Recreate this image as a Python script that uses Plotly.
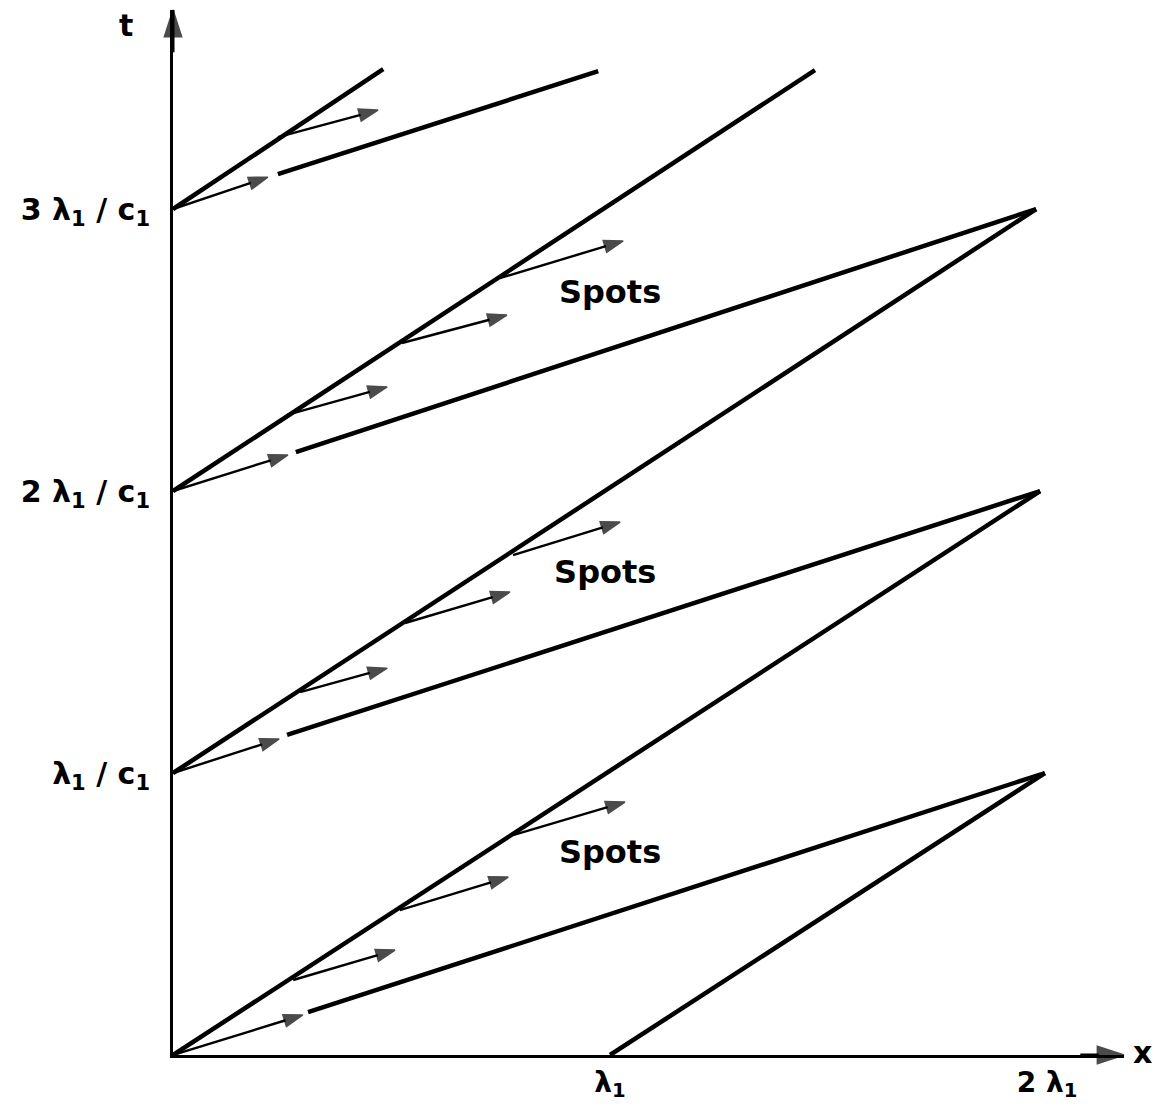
import plotly.graph_objects as go

# ---- data (x in units of lambda1, t in units of lambda1/c1) ----
# fast characteristics (t = x + k)
fast_x0 = [0.0, 1.0, 0.0, 0.0, 0.0]
fast_t0 = [0.0, 0.0, 1.0, 2.0, 3.0]
fast_x1 = [1.984, 1.995, 1.975, 1.469, 0.481]
fast_t1 = [2.0, 1.0, 3.0, 3.493, 3.496]

# slow characteristics (thick part, after the gap)
slow_x0 = [0.309, 0.261, 0.281, 0.240]
slow_t0 = [0.152, 1.135, 2.138, 3.124]
slow_x1 = [1.995, 1.984, 1.975, 0.973]
slow_t1 = [1.0, 2.0, 3.0, 3.489]

# small arrows (tail -> head)
arr_x0 = [0.0, 0.275, 0.519, 0.778,
          0.0, 0.291, 0.531, 0.778,
          0.0, 0.261, 0.524, 0.748,
          0.0, 0.240]
arr_t0 = [0.0, 0.266, 0.514, 0.780,
          1.0, 1.287, 1.532, 1.773,
          2.0, 2.270, 2.525, 2.755,
          3.0, 3.255]
arr_x1 = [0.297, 0.508, 0.767, 1.034,
          0.243, 0.490, 0.771, 1.023,
          0.263, 0.490, 0.764, 1.030,
          0.217, 0.469]
arr_t1 = [0.142, 0.372, 0.631, 0.897,
          1.121, 1.372, 1.642, 1.890,
          2.128, 2.369, 2.624, 2.887,
          3.113, 3.351]

# "Spots" labels
spot_x = [1.0, 0.989, 1.0]
spot_t = [2.695, 1.702, 0.709]

# ticks
x_tickvals = [1, 2]
x_ticktext = ["λ<sub>1</sub>", "2 λ<sub>1</sub>"]
y_tickvals = [1, 2, 3]
y_ticktext = ["λ<sub>1</sub> / c<sub>1</sub>", "2 λ<sub>1</sub> / c<sub>1</sub>", "3 λ<sub>1</sub> / c<sub>1</sub>"]

X_MAX = 2.176
T_MAX = 3.706

FONT = "DejaVu Sans"

fig = go.Figure()

for a, b, c, d in zip(fast_x0, fast_t0, fast_x1, fast_t1):
    fig.add_trace(go.Scatter(x=[a, c], y=[b, d], mode="lines",
                             line=dict(color="black", width=4.5),
                             showlegend=False, hoverinfo="skip"))
for a, b, c, d in zip(slow_x0, slow_t0, slow_x1, slow_t1):
    fig.add_trace(go.Scatter(x=[a, c], y=[b, d], mode="lines",
                             line=dict(color="black", width=4.5),
                             showlegend=False, hoverinfo="skip"))

# small arrows: shaft + arrow marker at the head
for a, b, c, d in zip(arr_x0, arr_t0, arr_x1, arr_t1):
    fig.add_trace(go.Scatter(x=[a, c], y=[b, d], mode="lines+markers",
                             line=dict(color="black", width=2.4),
                             marker=dict(symbol="arrow", size=[0, 20], angleref="previous",
                                         color="black", line=dict(width=1.5, color="black")),
                             showlegend=False, hoverinfo="skip", cliponaxis=False))

# axes arrowheads
fig.add_trace(go.Scatter(x=[X_MAX - 0.1, X_MAX], y=[0, 0], mode="lines+markers",
                         line=dict(color="black", width=3),
                         marker=dict(symbol="arrow", size=[0, 28], angleref="previous",
                                     color="black", line=dict(width=1.5, color="black")),
                         showlegend=False, hoverinfo="skip", cliponaxis=False))
fig.add_trace(go.Scatter(x=[0, 0], y=[T_MAX - 0.15, T_MAX], mode="lines+markers",
                         line=dict(color="black", width=3),
                         marker=dict(symbol="arrow", size=[0, 28], angleref="previous",
                                     color="black", line=dict(width=1.5, color="black")),
                         showlegend=False, hoverinfo="skip", cliponaxis=False))

fig.add_trace(go.Scatter(x=spot_x, y=spot_t, mode="text", text=["Spots"] * len(spot_x),
                         textfont=dict(family=FONT, size=32, color="black", weight="bold"),
                         showlegend=False, hoverinfo="skip"))

annotations = [
    dict(x=-0.0494, y=0.9856, xref="paper", yref="paper", text="t",
         xanchor="center", yanchor="middle",
         showarrow=False, font=dict(family=FONT, size=30, color="black", weight="bold")),
    dict(x=1.019, y=0.002, xref="paper", yref="paper", text="x",
         xanchor="center", yanchor="middle",
         showarrow=False, font=dict(family=FONT, size=30, color="black", weight="bold")),
]

fig.update_layout(
    width=1147, height=1093,
    margin=dict(l=165, r=31, t=2, b=46, autoexpand=False),
    paper_bgcolor="white", plot_bgcolor="white",
    showlegend=False,
    annotations=annotations,
    xaxis=dict(range=[0, X_MAX], showgrid=False, zeroline=False, showline=True,
               automargin=False,
               linecolor="black", linewidth=3, tickvals=x_tickvals, ticktext=x_ticktext,
               ticks="", tickfont=dict(family=FONT, size=28, color="black", weight="bold"),
               ticklabelstandoff=0),
    yaxis=dict(range=[0, T_MAX], showgrid=False, zeroline=False, showline=True,
               automargin=False,
               linecolor="black", linewidth=3, tickvals=y_tickvals, ticktext=y_ticktext,
               ticks="", tickfont=dict(family=FONT, size=30, color="black", weight="bold"),
               ticklabelstandoff=14),
)

fig.write_html("out.html")
